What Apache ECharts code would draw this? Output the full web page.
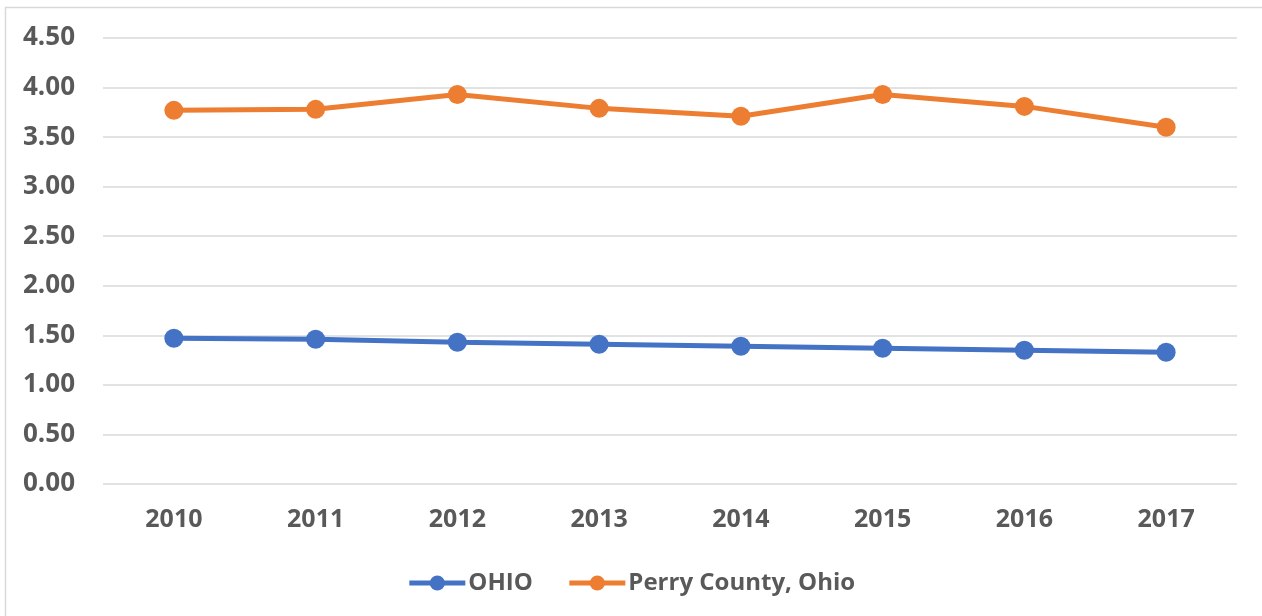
<!DOCTYPE html>
<html>
<head>
<meta charset="utf-8">
<script src="https://cdn.jsdelivr.net/npm/echarts@6/dist/echarts.min.js"></script>
<style>
  html, body { margin: 0; padding: 0; background: #fff; }
  #chart { width: 1262px; height: 616px; }
</style>
</head>
<body>
<div id="chart"></div>
<script>
// categories and values
const years = ["2010", "2011", "2012", "2013", "2014", "2015", "2016", "2017"];
const ohio = [1.47, 1.46, 1.43, 1.41, 1.39, 1.37, 1.35, 1.33];
const perry = [3.77, 3.78, 3.93, 3.79, 3.71, 3.93, 3.81, 3.60];

const colors = ["#4472C4", "#ED7D31"];
const textColor = "#595959";
const fontFamily = "'Open Sans', sans-serif";

const myChart = echarts.init(document.getElementById("chart"));

const option = {
  color: colors,
  animation: false,
  graphic: [
    {
      // chart area border (cut off at right and bottom)
      type: "rect",
      shape: { x: 5.5, y: 7.5, width: 1400, height: 800 },
      style: { fill: "none", stroke: "#D9D9D9", lineWidth: 1.5 },
      silent: true,
      z: -1,
    },
  ],
  grid: {
    left: 103,
    right: 25,
    top: 38,
    bottom: 132,
  },
  legend: {
    top: 566,
    left: "center",
    itemWidth: 56,
    itemHeight: 19,
    itemGap: 34,
    lineStyle: { width: 5 },
    textStyle: {
      color: textColor,
      fontSize: 24,
      fontWeight: "bold",
      fontFamily: fontFamily,
      padding: [0, 0, 0, -2],
    },
    data: ["OHIO", "Perry County, Ohio"],
  },
  xAxis: {
    type: "category",
    data: years,
    axisLine: { show: false },
    axisTick: { show: false },
    axisLabel: {
      margin: 23,
      color: textColor,
      fontSize: 25,
      fontWeight: "bold",
      fontFamily: fontFamily,
    },
  },
  yAxis: {
    type: "value",
    min: 0,
    max: 4.5,
    interval: 0.5,
    axisLine: { show: false },
    axisTick: { show: false },
    axisLabel: {
      margin: 28,
      color: textColor,
      fontSize: 26,
      fontWeight: "bold",
      fontFamily: fontFamily,
      formatter: (v) => v.toFixed(2),
    },
    splitLine: {
      lineStyle: { color: "#D9D9D9", width: 1.5 },
    },
  },
  series: [
    {
      name: "OHIO",
      type: "line",
      data: ohio,
      symbol: "circle",
      symbolSize: 19,
      lineStyle: { width: 5 },
    },
    {
      name: "Perry County, Ohio",
      type: "line",
      data: perry,
      symbol: "circle",
      symbolSize: 19,
      lineStyle: { width: 5 },
    },
  ],
};

myChart.setOption(option);
</script>
</body>
</html>
